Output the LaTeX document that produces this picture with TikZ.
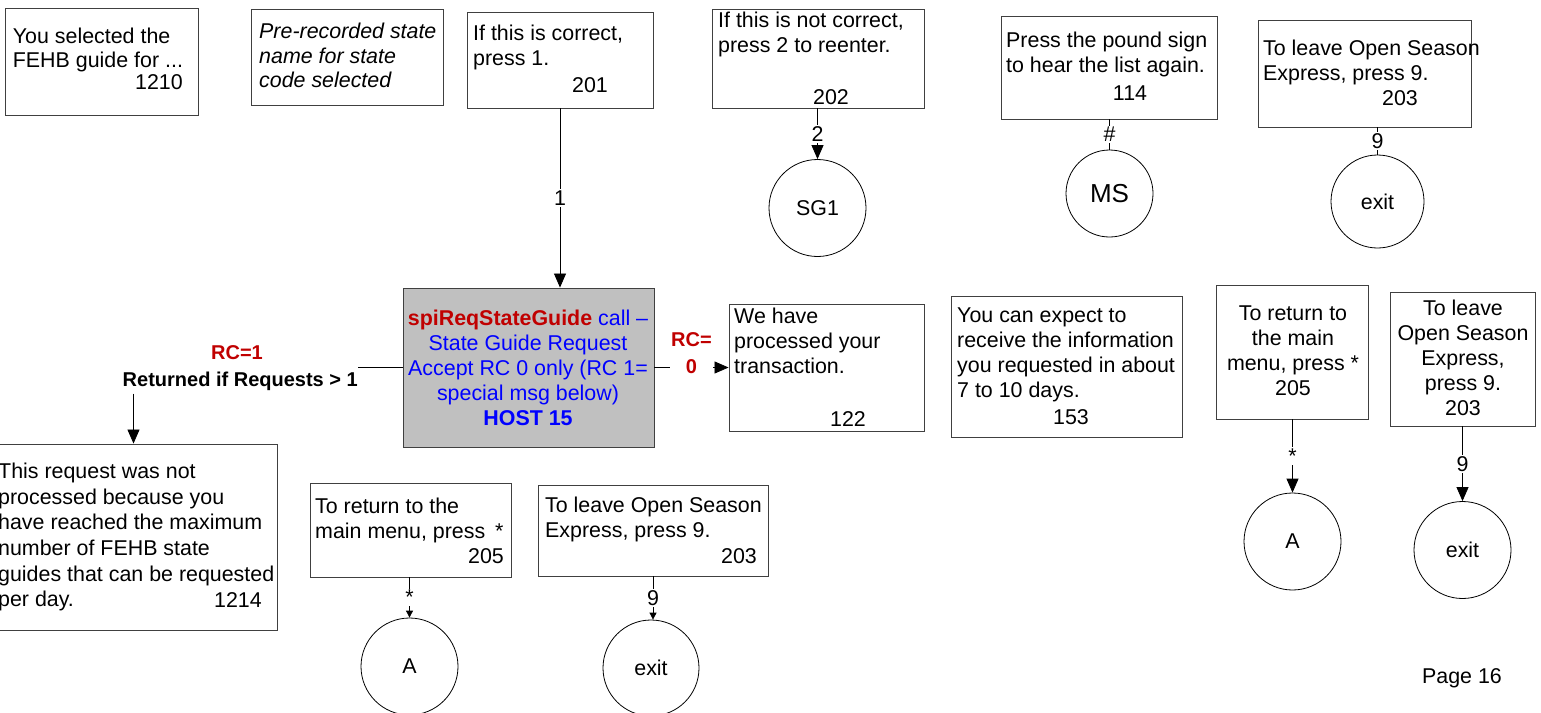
\documentclass[tikz,border=0pt]{standalone}
\usepackage{fontspec}
\setmainfont{Liberation Sans}
\usetikzlibrary{arrows.meta}
\definecolor{rcred}{RGB}{192,0,0}
\definecolor{hostblue}{RGB}{0,0,255}
\definecolor{boxgray}{RGB}{192,192,192}
\definecolor{edgegray}{RGB}{64,64,64}

\begin{document}
\begin{tikzpicture}[x=1pt,y=-1pt,
  box/.style={draw=edgegray, line width=0.9pt, rectangle, inner sep=0pt},
  txt/.style={inner sep=0pt, align=left, anchor=north west, font=\fontsize{21.4}{25}\selectfont},
  num/.style={inner sep=0pt, font=\fontsize{21.4}{25}\selectfont},
  ctxt/.style={inner sep=0pt, align=center, font=\fontsize{21.4}{25}\selectfont},
  circ/.style={draw=black, line width=0.8pt, circle, inner sep=0pt, font=\fontsize{21.4}{25}\selectfont},
  link/.style={draw=black, line width=0.8pt},
  arrow/.style={link, -{Triangle[length=14pt,width=12pt]}},
  smallarrow/.style={link, -{Triangle[length=7pt,width=7pt]}},
  key/.style={fill=white, inner sep=1.5pt, font=\fontsize{21.4}{25}\selectfont},
  rckey/.style={fill=white, inner sep=1pt, align=center, text=rcred, font=\fontsize{20}{27}\selectfont\bfseries},
]
\useasboundingbox (0,0) rectangle (1541,712);

% ---- top row of prompts ----
\node[box, minimum width=193pt, minimum height=107pt] (p1210) at (101.5,61.5) {};
\node[txt, font=\fontsize{21.4}{24}\selectfont] (t1210) at (12.7,28) {You selected the\\FEHB guide for ...};
\node[num, anchor=base east] (n1210) at (183,89) {1210};

\node[box, minimum width=192pt, minimum height=96pt] (pname) at (347,57) {};
\node[txt, font=\fontsize{21.4}{24.5}\selectfont\itshape] (tname) at (259,23) {Pre-recorded state\\name for state\\code selected};

\node[box, minimum width=186pt, minimum height=96pt] (p201) at (560,60) {};
\node[txt] (t201) at (473,25) {If this is correct,\\press 1.};
\node[num, anchor=base] (n201) at (590,92) {201};

\node[box, minimum width=212pt, minimum height=99pt] (p202) at (818,58.5) {};
\node[txt] (t202) at (718,12) {If this is not correct,\\press 2 to reenter.};
\node[num, anchor=base] (n202) at (831,104) {202};

\node[box, minimum width=216pt, minimum height=103pt] (p114) at (1109,67.5) {};
\node[txt] (t114) at (1006,32) {Press the pound sign\\to hear the list again.};
\node[num, anchor=base] (n114) at (1130,100) {114};

\node[box, minimum width=213pt, minimum height=107pt] (p203t) at (1364.5,73.5) {};
\node[txt] (t203t) at (1263,40) {To leave Open Season\\Express, press 9.};
\node[num, anchor=base] (n203t) at (1400,105) {203};

\node[circ, minimum size=97pt] (sg1) at (817.5,208) {SG1};
\node[circ, minimum size=87pt, font=\fontsize{26}{28}\selectfont] (ms) at (1109.5,193.5) {MS};
\node[circ, minimum size=93pt] (exitt) at (1377.5,201.5) {exit};

% ---- host call ----
\node[box, fill=boxgray, minimum width=251pt, minimum height=159pt] (host) at (528.5,367.5) {};
\node[ctxt, text=hostblue] (thost) at (528,368) {{\color{rcred}\bfseries spiReqStateGuide} call --\\State Guide Request\\Accept RC 0 only (RC 1=\\special msg below)\\{\bfseries HOST 15}};

\node[inner sep=0pt, text=rcred, font=\fontsize{20}{24}\selectfont\bfseries] (rc1) at (237,353) {RC=1};
\node[inner sep=0pt, anchor=east, font=\fontsize{20}{24}\selectfont\bfseries] (rcnote) at (358,381) {Returned if Requests > 1};

% ---- results ----
\node[box, minimum width=195pt, minimum height=127pt] (p122) at (826.5,367.5) {};
\node[txt] (t122) at (734,308) {We have\\processed your\\transaction.};
\node[num, anchor=base] (n122) at (848,426) {122};

\node[box, minimum width=231pt, minimum height=141pt] (p153) at (1066.5,366.5) {};
\node[txt] (t153) at (957,308) {You can expect to\\receive the information\\you requested in about\\7 to 10 days.};
\node[num, anchor=base] (n153) at (1071,424) {153};

\node[box, minimum width=152pt, minimum height=134pt] (p205r) at (1292,352) {};
\node[ctxt] (t205r) at (1293,351) {To return to\\the main\\menu, press *\\205};

\node[box, minimum width=145pt, minimum height=134pt] (p203r) at (1462.5,359) {};
\node[ctxt] (t203r) at (1463,358) {To leave\\Open Season\\Express,\\press 9.\\203};

\node[circ, minimum size=97pt] (ar) at (1292.5,541.5) {A};
\node[circ, minimum size=97pt] (exitr) at (1462.5,550) {exit};

% ---- limit reached ----
\node[box, minimum width=287pt, minimum height=186pt] (p1214) at (133.5,537) {};
\node[txt, font=\fontsize{21.4}{25.6}\selectfont] (t1214) at (-2,463) {This request was not\\processed because you\\have reached the maximum\\number of FEHB state\\guides that can be requested\\per day.};
\node[num, anchor=base east] (n1214) at (262,607) {1214};

% ---- bottom prompts ----
\node[box, minimum width=201pt, minimum height=94pt] (p205b) at (410.5,530) {};
\node[txt] (t205b) at (315,498) {To return to the\\main menu, press\hspace{10pt}*};
\node[num, anchor=base east] (n205b) at (504,563) {205};

\node[box, minimum width=230pt, minimum height=91pt] (p203b) at (653,530.5) {};
\node[txt] (t203b) at (545,497) {To leave Open Season\\Express, press 9.};
\node[num, anchor=base east] (n203b) at (757,563) {203};

\node[circ, minimum size=97pt] (ab) at (409.5,666.5) {A};
\node[circ, minimum size=96pt] (exitb) at (651,668) {exit};

\node[inner sep=0pt, font=\fontsize{21.4}{25}\selectfont] (page) at (1462,678) {Page 16};

% ---- connectors ----
\draw[arrow] (p201.south) -- node[key] {1} (p201.south |- host.north);
\draw[arrow] (sg1.north |- p202.south) -- node[key] {2} (sg1.north);
\draw[link] (ms.north |- p114.south) -- node[key] {\#} (ms.north);
\draw[link] (exitt.north |- p203t.south) -- node[key] {9} (exitt.north);

\draw[link] (host.west) -- (host.west -| rcnote.east);
\draw[arrow] ([yshift=-3pt]p1214.north |- rcnote.south) -- (p1214.north);
\draw[arrow] (host.east) -- node[rckey, yshift=14pt] {RC=\\0} (host.east -| p122.west);

\draw[arrow] (ar.north |- p205r.south) -- node[key] {*} (ar.north);
\draw[arrow] (exitr.north |- p203r.south) -- node[key] {9} (exitr.north);
\draw[smallarrow] (ab.north |- p205b.south) -- node[key] {*} (ab.north);
\draw[smallarrow] ([xshift=2pt]exitb.north |- p203b.south) -- node[key] {9} ([xshift=2pt]exitb.north);
\end{tikzpicture}
\end{document}
